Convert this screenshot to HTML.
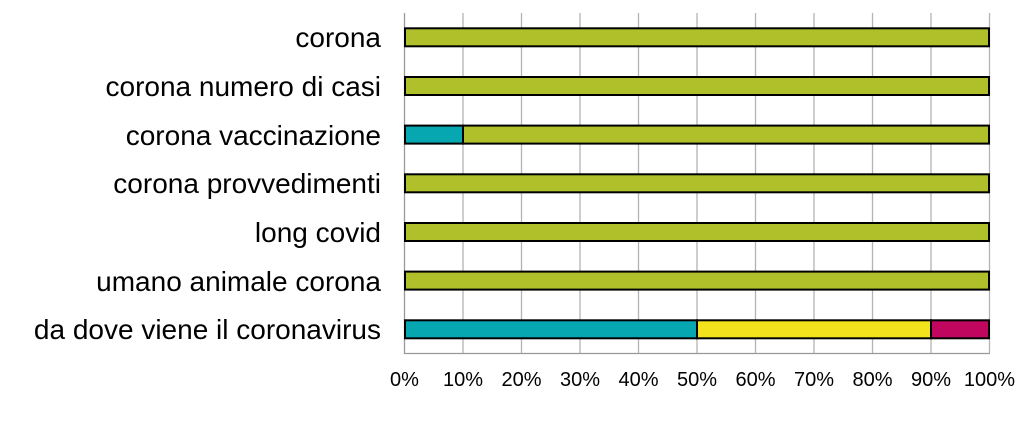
<!DOCTYPE html><html><head><meta charset="utf-8"><style>body{margin:0;background:#fff}</style></head><body>
<svg width="1024" height="417" xmlns="http://www.w3.org/2000/svg" font-family="Liberation Sans, sans-serif">
<g stroke="#b3b3b3" stroke-width="1.3">
<line x1="463" y1="13" x2="463" y2="353"/><line x1="521.5" y1="13" x2="521.5" y2="353"/><line x1="580" y1="13" x2="580" y2="353"/><line x1="638.5" y1="13" x2="638.5" y2="353"/><line x1="697" y1="13" x2="697" y2="353"/><line x1="755.5" y1="13" x2="755.5" y2="353"/><line x1="814" y1="13" x2="814" y2="353"/><line x1="872.5" y1="13" x2="872.5" y2="353"/><line x1="931" y1="13" x2="931" y2="353"/><line x1="989.5" y1="13" x2="989.5" y2="353"/>
</g>
<line x1="404.5" y1="13" x2="404.5" y2="354" stroke="#999" stroke-width="1.3"/>
<line x1="404" y1="353.5" x2="990" y2="353.5" stroke="#999" stroke-width="1.3"/>
<g stroke="#000" stroke-width="2">
<rect x="405" y="28.3" width="584" height="18" fill="#afc02b"/>
<rect x="405" y="77" width="584" height="18" fill="#afc02b"/>
<rect x="405" y="125.6" width="58" height="18" fill="#06a7b0"/>
<rect x="463" y="125.6" width="526" height="18" fill="#afc02b"/>
<rect x="405" y="174.3" width="584" height="18" fill="#afc02b"/>
<rect x="405" y="223" width="584" height="18" fill="#afc02b"/>
<rect x="405" y="271.6" width="584" height="18" fill="#afc02b"/>
<rect x="405" y="320.3" width="292" height="18" fill="#06a7b0"/>
<rect x="697" y="320.3" width="234" height="18" fill="#f2e31c"/>
<rect x="931" y="320.3" width="58" height="18" fill="#c0065f"/>
</g>
<g font-size="28" text-anchor="end" fill="#000">
<text x="381" y="47">corona</text>
<text x="381" y="96">corona numero di casi</text>
<text x="381" y="145">corona vaccinazione</text>
<text x="381" y="193">corona provvedimenti</text>
<text x="381" y="242">long covid</text>
<text x="381" y="291">umano animale corona</text>
<text x="381" y="339">da dove viene il coronavirus</text>
</g>
<g font-size="20" text-anchor="middle" fill="#000">
<text x="404.5" y="386">0%</text><text x="463" y="386">10%</text><text x="521.5" y="386">20%</text><text x="580" y="386">30%</text><text x="638.5" y="386">40%</text><text x="697" y="386">50%</text><text x="755.5" y="386">60%</text><text x="814" y="386">70%</text><text x="872.5" y="386">80%</text><text x="931" y="386">90%</text><text x="989.5" y="386">100%</text>
</g>
</svg></body></html>
